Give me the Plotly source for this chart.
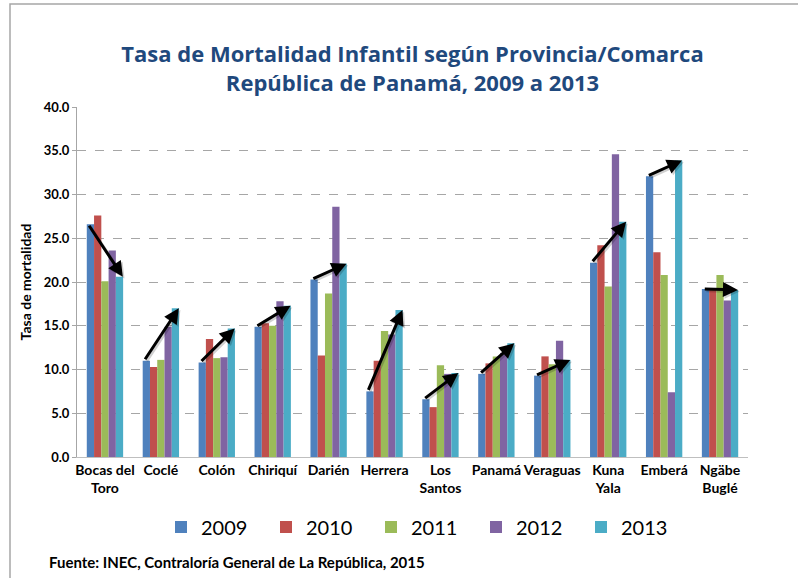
import plotly.graph_objects as go

provinces = ["Bocas del<br>Toro", "Coclé", "Colón", "Chiriquí", "Darién", "Herrera",
             "Los<br>Santos", "Panamá", "Veraguas", "Kuna<br>Yala", "Emberá", "Ngäbe<br>Buglé"]
years = ["2009", "2010", "2011", "2012", "2013"]
v2009 = [26.6, 11.0, 10.8, 14.9, 20.3, 7.5, 6.6, 9.5, 9.3, 22.2, 32.1, 19.2]
v2010 = [27.6, 10.3, 13.5, 15.3, 11.6, 11.0, 5.7, 10.7, 11.5, 24.2, 23.4, 19.3]
v2011 = [20.1, 11.1, 11.3, 15.0, 18.7, 14.4, 10.5, 11.5, 10.6, 19.5, 20.8, 20.8]
v2012 = [23.6, 14.9, 11.4, 17.8, 28.6, 14.0, 9.5, 11.9, 13.3, 34.6, 7.4, 17.9]
v2013 = [20.6, 17.0, 14.7, 17.3, 22.1, 16.8, 9.6, 13.0, 11.1, 26.9, 33.9, 19.1]
series = [v2009, v2010, v2011, v2012, v2013]
colors = ["#4F81BD", "#C0504D", "#9BBB59", "#8064A2", "#4BACC6"]

FONT = "Lato"
TFONT = "Open Sans"
x = list(range(len(provinces)))

fig = go.Figure()
for yr, vals, c in zip(years, series, colors):
    fig.add_trace(go.Bar(x=x, y=vals, name=yr, marker=dict(color=c, line=dict(width=0))))

# trend arrows from 2009 to 2013 (with a soft shadow)
for i in x:
    fig.add_annotation(x=i + 0.35, y=v2013[i] - 0.2, ax=i - 0.27, ay=v2009[i] - 0.2,
                       xref="x", yref="y", axref="x", ayref="y",
                       showarrow=True, arrowhead=2, arrowsize=1, arrowwidth=3,
                       arrowcolor="rgba(0,0,0,0.18)", text="")
    fig.add_annotation(x=i + 0.32, y=v2013[i], ax=i - 0.3, ay=v2009[i],
                       xref="x", yref="y", axref="x", ayref="y",
                       showarrow=True, arrowhead=2, arrowsize=1, arrowwidth=3,
                       arrowcolor="black", text="")

fig.update_layout(
    width=798, height=578,
    margin=dict(l=77, r=50, t=107, b=121),
    paper_bgcolor="white", plot_bgcolor="white",
    font=dict(family=FONT, color="black"),
    barmode="group", bargap=0.35, bargroupgap=0,
    title=dict(text="<b>Tasa de Mortalidad Infantil según Provincia/Comarca<br>República de Panamá, 2009 a 2013</b>",
               x=0.5, xref="paper", xanchor="center", y=1 - 62 / 578, yanchor="middle",
               font=dict(family=TFONT, size=22, color="#1F497D")),
    xaxis=dict(range=[-0.5, 11.5], tickmode="array", tickvals=x,
               ticktext=["<b>" + p.replace("<br>", "</b><br><b>") + "</b>" for p in provinces],
               tickfont=dict(size=14, family=FONT), showline=True, linecolor="#BFBFBF",
               linewidth=1, ticks="", showgrid=False, zeroline=False),
    yaxis=dict(range=[0, 40], dtick=5, tickformat=".1f", tickfont=dict(size=13, family=FONT, weight="bold"),
               showgrid=True, gridcolor="#A6A6A6", griddash="dash", gridwidth=1,
               showline=True, linecolor="#A6A6A6", ticks="outside", ticklen=4, tickcolor="#A6A6A6",
               zeroline=False,
               title=dict(text="<b>Tasa de mortalidad</b>", font=dict(size=14, family=FONT), standoff=8)),
    legend=dict(orientation="h", x=(161 - 77) / 671, xanchor="left", y=(457 - 527) / 350, yanchor="middle",
                font=dict(size=20, family=FONT), entrywidth=60, entrywidthmode="pixels",
                traceorder="normal"),
    showlegend=True,
)

fig.add_annotation(text="<b>Fuente: INEC, Contraloría General de La República, 2015</b>",
                   xref="paper", yref="paper", x=(47 - 77) / 671, y=(457 - 562) / 350,
                   xanchor="left", yanchor="middle", showarrow=False,
                   font=dict(size=15, family=FONT, color="black"))

# outer frame
fig.add_shape(type="rect", xref="paper", yref="paper",
              x0=(10 - 77) / 671, x1=1.3, y0=-0.6, y1=(457 - 4) / 350,
              line=dict(color="#A6A6A6", width=1.5), fillcolor="rgba(0,0,0,0)", layer="below")

fig.write_html("out.html", config={"displayModeBar": False},
               post_script="document.body.style.margin='0';")
